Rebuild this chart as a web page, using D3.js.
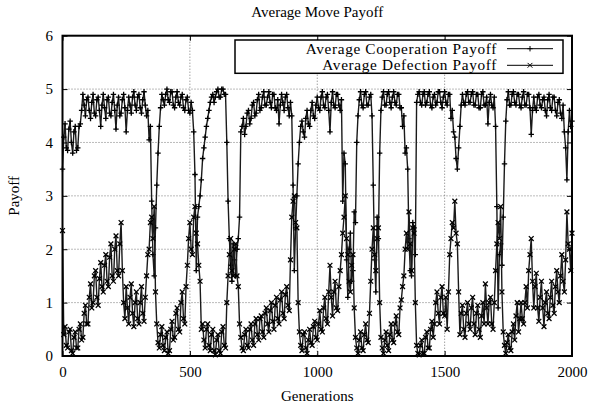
<!DOCTYPE html>
<html>
<head>
<meta charset="utf-8">
<script src="https://cdn.jsdelivr.net/npm/d3@7"></script>
<style>
  body { margin: 0; background: #fff; }
  svg { display: block; }
  text { font-family: "Liberation Serif", "Times New Roman", serif; font-size: 15px; fill: #000; }
</style>
</head>
<body>
<div id="chart"></div>
<script>
// generations sampled every 5 steps, 0..2000 (20 values per row = 100 generations)
var step = 5;

var coopPayoff = [
  3.5, 4.1, 4.35, 3.9, 3.85, 4.25, 4.4, 4.0, 3.8, 4.2, 4.3, 3.85, 3.9, 4.3, 4.35, 4.6, 4.9, 4.7, 4.5, 4.8,
  4.85, 4.6, 4.45, 4.75, 4.9, 4.55, 4.5, 4.8, 4.85, 4.6, 4.3, 4.7, 4.9, 4.65, 4.45, 4.8, 4.85, 4.55, 4.5, 4.75,
  4.9, 4.6, 4.25, 4.7, 4.85, 4.5, 4.55, 4.8, 4.9, 4.65, 4.2, 4.6, 4.85, 4.7, 4.55, 4.85, 4.95, 4.7, 4.6, 4.85,
  4.9, 4.65, 4.55, 4.8, 4.95, 4.7, 4.5, 4.6, 4.05, 4.3, 2.9, 1.9, 1.5, 2.4, 3.2, 3.8, 4.3, 4.65, 4.9, 4.8,
  4.7, 4.9, 5.0, 4.8, 4.75, 4.95, 4.95, 4.7, 4.65, 4.85, 4.95, 4.75, 4.7, 4.85, 4.9, 4.65, 4.6, 4.8, 4.85, 4.6,
  4.55, 4.75, 4.6, 4.2, 3.4, 1.6, 2.6, 2.8, 3.0, 3.3, 3.7, 3.9, 4.1, 4.3, 4.45, 4.6, 4.75, 4.85, 4.9, 4.75,
  4.85, 4.95, 5.0, 4.85, 4.85, 5.0, 5.0, 4.9, 4.9, 4.0, 2.9, 2.2, 1.7, 1.4, 2.1, 1.8, 1.5, 2.0, 2.2, 2.6,
  4.2, 4.3, 4.45, 4.15, 4.3, 4.55, 4.6, 4.35, 4.45, 4.7, 4.75, 4.5, 4.55, 4.8, 4.9, 4.6, 4.65, 4.85, 4.95, 4.7,
  4.7, 4.85, 4.95, 4.75, 4.65, 4.9, 4.9, 4.65, 4.6, 4.8, 4.35, 4.7, 4.9, 4.75, 4.6, 4.85, 4.9, 4.65, 4.5, 4.75,
  4.5, 3.2, 1.6, 2.4, 3.0, 3.6, 4.0, 4.3, 4.4, 4.2, 4.1, 4.45, 4.6, 4.35, 4.3, 4.6, 4.75, 4.5, 4.45, 4.7,
  4.85, 4.65, 4.6, 4.85, 4.95, 4.7, 4.65, 4.85, 4.9, 4.6, 4.2, 4.75, 4.95, 4.7, 4.65, 4.9, 4.9, 4.7, 4.6, 4.8,
  2.9, 3.8, 3.6, 1.8, 1.1, 2.0, 2.3, 1.4, 1.6, 2.7, 2.5, 4.0, 4.5, 4.8, 4.95, 4.7, 4.65, 4.9, 4.95, 4.7,
  4.7, 4.85, 4.9, 4.5, 3.2, 1.8, 1.2, 2.6, 2.2, 3.8, 4.6, 4.85, 4.95, 4.7, 4.7, 4.9, 4.95, 4.75, 4.65, 4.85,
  4.95, 4.75, 4.7, 4.9, 4.9, 4.65, 4.65, 4.3, 4.5, 3.8, 3.9, 3.5, 2.2, 1.6, 1.5, 2.5, 2.4, 1.9, 4.75, 4.9,
  4.95, 4.75, 4.7, 4.9, 4.95, 4.7, 4.75, 4.9, 4.95, 4.7, 4.65, 4.85, 4.9, 4.7, 4.75, 4.95, 4.95, 4.75, 4.65, 4.85,
  4.95, 4.75, 4.7, 4.9, 4.9, 4.45, 4.6, 4.2, 4.1, 3.7, 3.5, 3.9, 4.3, 4.7, 4.9, 4.75, 4.7, 4.9, 4.95, 4.75,
  4.75, 4.9, 4.95, 4.7, 4.7, 4.9, 4.9, 4.65, 4.65, 4.9, 4.95, 4.7, 4.7, 4.85, 4.35, 4.75, 4.9, 4.7, 4.65, 4.85,
  4.3, 2.8, 0.9, 1.9, 2.1, 1.7, 2.6, 3.6, 4.4, 4.8, 4.95, 4.7, 4.7, 4.9, 4.95, 4.75, 4.7, 4.9, 4.9, 4.7,
  4.65, 4.85, 4.95, 4.7, 4.7, 4.9, 4.9, 4.65, 4.15, 4.6, 4.85, 4.65, 4.6, 4.85, 4.9, 4.7, 4.65, 4.8, 4.85, 4.6,
  4.5, 4.8, 4.9, 4.65, 4.6, 4.85, 4.85, 4.6, 4.5, 4.75, 4.8, 4.55, 4.45, 4.7, 4.2, 3.9, 3.3, 4.2, 4.6, 4.3,
  4.4
];

var defectPayoff = [
  2.35, 0.4, 0.55, 0.2, 0.15, 0.45, 0.5, 0.1, 0.05, 0.35, 0.45, 0.15, 0.15, 0.5, 0.6, 0.3, 0.35, 0.8, 0.95, 0.6,
  0.6, 1.1, 1.35, 0.9, 1.0, 1.5, 1.6, 1.1, 0.95, 1.45, 1.75, 1.3, 1.2, 1.7, 1.9, 1.4, 1.3, 1.85, 2.1, 1.5,
  1.4, 2.0, 2.25, 1.6, 1.5, 2.1, 2.5, 1.6, 1.0, 0.7, 1.3, 0.9, 0.6, 1.1, 1.35, 0.8, 0.55, 1.0, 1.2, 0.7,
  0.6, 1.0, 1.3, 0.8, 0.65, 1.1, 1.5, 1.9, 2.0, 2.5, 2.6, 2.2, 2.8, 1.2, 0.6, 0.25, 0.15, 0.4, 0.55, 0.2,
  0.1, 0.35, 0.45, 0.05, 0.1, 0.5, 0.65, 0.3, 0.35, 0.8, 0.9, 0.5, 0.45, 1.0, 1.2, 0.7, 0.6, 1.3, 1.7, 2.2,
  2.5, 2.0, 1.9, 2.6, 2.8, 2.3, 2.1, 1.7, 1.4, 0.5, 0.6, 0.3, 0.15, 0.5, 0.6, 0.2, 0.1, 0.4, 0.5, 0.1,
  0.02, 0.3, 0.4, 0.1, 0.05, 0.45, 0.55, 0.2, 0.15, 1.0, 1.5, 1.9, 2.2, 1.6, 1.5, 2.0, 2.1, 1.5, 1.3, 0.6,
  0.35, 0.15, 0.1, 0.4, 0.5, 0.2, 0.15, 0.5, 0.6, 0.3, 0.2, 0.6, 0.7, 0.4, 0.3, 0.7, 0.75, 0.45, 0.35, 0.8,
  0.9, 0.6, 0.45, 0.85, 1.0, 0.65, 0.5, 0.95, 1.1, 0.7, 0.6, 1.05, 1.2, 0.8, 0.7, 1.15, 1.3, 0.95, 0.85, 1.8,
  2.6, 2.9, 3.0, 2.5, 2.4, 1.0, 0.45, 0.2, 0.1, 0.4, 0.45, 0.15, 0.05, 0.3, 0.5, 0.25, 0.2, 0.55, 0.65, 0.35,
  0.3, 0.6, 0.85, 0.5, 0.45, 0.9, 1.1, 0.7, 0.6, 1.2, 1.7, 1.1, 0.75, 1.2, 1.4, 0.9, 0.85, 1.3, 1.6, 1.9,
  2.3, 2.6, 3.0, 2.2, 1.9, 1.4, 1.2, 1.7, 1.9, 0.9, 0.35, 0.15, 0.05, 0.3, 0.45, 0.15, 0.1, 0.4, 0.6, 0.3,
  0.25, 0.8, 1.4, 2.0, 2.4, 1.9, 1.6, 2.2, 2.4, 1.0, 0.35, 0.15, 0.05, 0.3, 0.45, 0.2, 0.1, 0.4, 0.6, 0.3,
  0.25, 0.6, 0.75, 0.45, 0.4, 0.9, 1.05, 1.3, 1.5, 2.0, 2.3, 2.0, 2.7, 2.1, 1.6, 2.4, 2.3, 1.0, 0.2, 0.05,
  0.02, 0.2, 0.3, 0.05, 0.05, 0.35, 0.45, 0.15, 0.15, 0.5, 0.65, 0.35, 0.6, 1.0, 1.2, 0.8, 0.6, 1.1, 1.3, 0.8,
  0.75, 1.1, 0.5, 1.2, 1.9, 2.2, 2.5, 2.4, 2.9, 2.3, 2.1, 1.2, 0.4, 0.8, 0.95, 0.5, 0.35, 0.8, 1.0, 0.6,
  0.5, 0.9, 1.1, 0.6, 0.4, 0.8, 0.95, 0.5, 0.35, 0.75, 1.0, 0.6, 1.35, 0.9, 0.6, 1.0, 1.1, 0.6, 0.5, 1.0,
  1.6, 2.1, 2.5, 2.2, 2.8, 1.2, 0.45, 0.2, 0.05, 0.25, 0.4, 0.15, 0.1, 0.45, 0.6, 0.3, 0.75, 1.0, 0.45, 0.7,
  1.0, 0.7, 0.6, 1.0, 1.3, 0.9, 1.6, 1.9, 2.2, 1.4, 0.9, 1.3, 1.55, 0.9, 0.65, 1.1, 1.4, 0.9, 0.55, 1.0,
  1.2, 0.8, 0.7, 1.1, 1.4, 0.95, 0.8, 1.3, 1.6, 1.2, 1.0, 1.5, 1.9, 1.4, 1.2, 1.8, 2.7, 2.1, 2.0, 1.6,
  2.3
];

var seriesNames = ["Average Cooperation Payoff", "Average Defection Payoff"];
var xTicks = [0, 500, 1000, 1500, 2000];
var yTicks = [0, 1, 2, 3, 4, 5, 6];

var width = 591, height = 409;
var plot = {left: 62.5, right: 572, top: 35.7, bottom: 356};

var svg = d3.select("#chart").append("svg")
    .attr("width", width)
    .attr("height", height);

var x = d3.scaleLinear().domain([0, 2000]).range([plot.left, plot.right]);
var y = d3.scaleLinear().domain([0, 6]).range([plot.bottom, plot.top]);

// grid
var grid = svg.append("g").attr("class", "grid");
grid.selectAll("line.gy").data(yTicks.slice(1, -1)).enter().append("line")
    .attr("x1", plot.left).attr("x2", plot.right)
    .attr("y1", d => y(d)).attr("y2", d => y(d));
grid.selectAll("line.gx").data(xTicks.slice(1, -1)).enter().append("line")
    .attr("y1", plot.top).attr("y2", plot.bottom)
    .attr("x1", d => x(d)).attr("x2", d => x(d));
grid.selectAll("line")
    .attr("stroke", "#777")
    .attr("stroke-width", 1)
    .attr("stroke-dasharray", "1,2");

// series
var series = [
    {name: seriesNames[0], values: coopPayoff, marker: "M-2.7,0h5.4M0,-2.7v5.4"},
    {name: seriesNames[1], values: defectPayoff, marker: "M-2.4,-2.4l4.8,4.8M-2.4,2.4l4.8,-4.8"}
];

var line = d3.line()
    .x((d, i) => x(i * step))
    .y(d => y(d));

series.forEach(function(s) {
    var g = svg.append("g").attr("class", "series");
    g.append("path")
        .attr("d", line(s.values))
        .attr("fill", "none")
        .attr("stroke", "#1a1a1a")
        .attr("stroke-width", 1.4)
        .attr("stroke-linejoin", "round");
    g.selectAll("path.pt").data(s.values).enter().append("path")
        .attr("class", "pt")
        .attr("d", s.marker)
        .attr("transform", (d, i) => "translate(" + x(i * step) + "," + y(d) + ")")
        .attr("stroke", "#000")
        .attr("stroke-width", 1.3)
        .attr("fill", "none");
});

// axes, ticks pointing inward, mirrored on top/right
function styleAxis(g) {
    g.select(".domain").remove();
    g.selectAll(".tick line").attr("stroke", "#000").attr("stroke-width", 1);
    g.selectAll(".tick text")
        .style("font-family", '"Liberation Serif", "Times New Roman", serif')
        .style("font-size", "15px");
}

svg.append("g")
    .attr("transform", "translate(0," + plot.bottom + ")")
    .call(d3.axisBottom(x).tickValues(xTicks).tickFormat(d3.format("d")).tickSize(-5).tickPadding(10))
    .call(styleAxis);
svg.append("g")
    .attr("transform", "translate(0," + plot.top + ")")
    .call(d3.axisTop(x).tickValues(xTicks).tickSize(-5).tickFormat(""))
    .call(styleAxis);
svg.append("g")
    .attr("transform", "translate(" + plot.left + ",0)")
    .call(d3.axisLeft(y).tickValues(yTicks).tickFormat(d3.format("d")).tickSize(-5).tickPadding(9.5))
    .call(styleAxis);
svg.append("g")
    .attr("transform", "translate(" + plot.right + ",0)")
    .call(d3.axisRight(y).tickValues(yTicks).tickSize(-5).tickFormat(""))
    .call(styleAxis);

// border
svg.append("rect")
    .attr("x", plot.left).attr("y", plot.top)
    .attr("width", plot.right - plot.left)
    .attr("height", plot.bottom - plot.top)
    .attr("fill", "none")
    .attr("stroke", "#000")
    .attr("stroke-width", 2);

// legend
var legend = svg.append("g").attr("class", "legend");
legend.append("rect")
    .attr("x", 235).attr("y", 40)
    .attr("width", 328).attr("height", 33.3)
    .attr("fill", "#fff")
    .attr("stroke", "#000")
    .attr("stroke-width", 1.5);
var rows = legend.selectAll("g.row").data(series).enter().append("g")
    .attr("class", "row")
    .attr("transform", (d, i) => "translate(0," + (48.7 + i * 16.6) + ")");
rows.append("text")
    .attr("x", 497)
    .attr("dy", "0.32em")
    .attr("text-anchor", "end")
    .style("font-size", "15.3px")
    .style("letter-spacing", "0.65px")
    .text(d => d.name);
rows.append("line")
    .attr("x1", 507).attr("x2", 553)
    .attr("stroke", "#000").attr("stroke-width", 1);
rows.append("path")
    .attr("d", d => d.marker)
    .attr("transform", "translate(530,0)")
    .attr("stroke", "#000").attr("fill", "none");

// titles
svg.append("text")
    .attr("x", (plot.left + plot.right) / 2)
    .attr("y", 17)
    .attr("text-anchor", "middle")
    .text("Average Move Payoff");
svg.append("text")
    .attr("x", (plot.left + plot.right) / 2)
    .attr("y", 401)
    .attr("text-anchor", "middle")
    .text("Generations");
svg.append("text")
    .attr("transform", "translate(19," + ((plot.top + plot.bottom) / 2) + ") rotate(-90)")
    .attr("text-anchor", "middle")
    .text("Payoff");
</script>
</body>
</html>
